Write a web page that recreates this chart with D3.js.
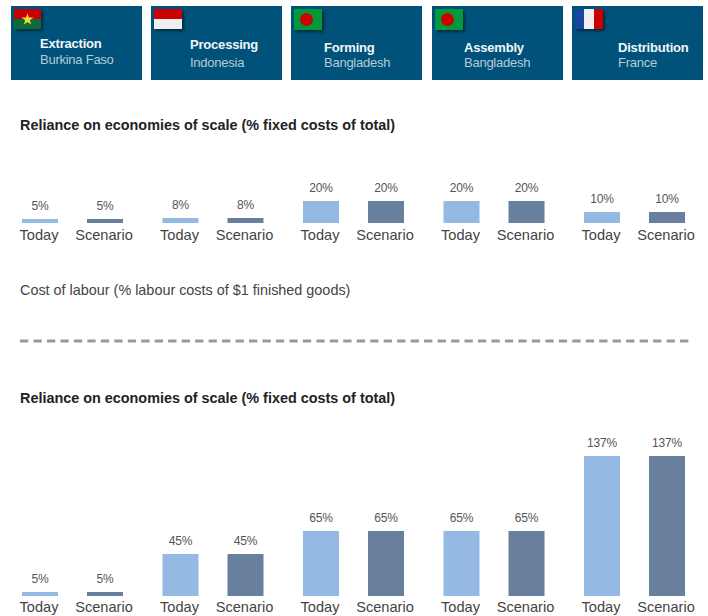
<!DOCTYPE html>
<html>
<head>
<meta charset="utf-8">
<script src="https://cdn.jsdelivr.net/npm/d3@7"></script>
<style>
  body { margin: 0; background: #fff; }
  svg { display: block; font-family: "Liberation Sans", sans-serif; }
</style>
</head>
<body>
<div class="chart"></div>
<script>
const steps = ['Extraction', 'Processing', 'Forming', 'Assembly', 'Distribution'];
const countries = ['Burkina Faso', 'Indonesia', 'Bangladesh', 'Bangladesh', 'France'];
const series = ['Today', 'Scenario'];
const fixedToday = [5, 8, 20, 20, 10];
const fixedScenario = [5, 8, 20, 20, 10];
const labourToday = [5, 45, 65, 65, 137];
const labourScenario = [5, 45, 65, 65, 137];

const tileBlue = '#00527a';
const seriesColor = d3.scaleOrdinal().domain(series).range(['#94b9e3', '#697f9e']);

const svg = d3.select('.chart')
  .append('svg')
  .attr('width', 708)
  .attr('height', 616);

const defs = svg.append('defs');
defs.append('filter')
  .attr('id', 'flagShadow')
  .attr('x', '-20%').attr('y', '-20%')
  .attr('width', '150%').attr('height', '160%')
  .append('feDropShadow')
  .attr('dx', 2).attr('dy', 2)
  .attr('stdDeviation', 1.5)
  .attr('flood-color', '#000')
  .attr('flood-opacity', 0.5);

// header tiles
const tileX = d3.scaleBand().domain(d3.range(5)).range([11, 703]).paddingInner(0.065);
const tileTextX = [29, 39, 33, 32, 46];
const titleY = [42, 43, 46, 46, 46];
const countryY = [58, 61, 61, 61, 61];

const tiles = svg.selectAll('g.tile')
  .data(steps)
  .enter()
  .append('g')
  .attr('class', 'tile')
  .attr('transform', (d, i) => `translate(${Math.round(tileX(i))},6)`);

tiles.append('rect')
  .attr('width', Math.round(tileX.bandwidth()))
  .attr('height', 74)
  .attr('fill', tileBlue);

tiles.append('text')
  .attr('x', (d, i) => tileTextX[i])
  .attr('y', (d, i) => titleY[i])
  .attr('fill', '#f2f6f8')
  .attr('font-size', 13)
  .attr('font-weight', 'bold')
  .attr('letter-spacing', -0.2)
  .text(d => d);

tiles.append('text')
  .attr('x', (d, i) => tileTextX[i])
  .attr('y', (d, i) => countryY[i])
  .attr('fill', '#b4ccd8')
  .attr('font-size', 13)
  .attr('letter-spacing', -0.25)
  .text((d, i) => countries[i]);

const flag = (i, w, h) => tiles.filter((d, k) => k === i)
  .append('g')
  .attr('transform', `translate(3,3)`)
  .attr('filter', 'url(#flagShadow)')
  .call(g => g.append('rect').attr('width', w).attr('height', h).attr('fill', '#fff'));

const burkina = flag(0, 27, 20);
burkina.append('rect').attr('width', 27).attr('height', 10).attr('fill', '#c90000');
burkina.append('rect').attr('y', 10).attr('width', 27).attr('height', 10).attr('fill', '#0b6b3a');
burkina.append('path')
  .attr('transform', 'translate(13.5,10.5)')
  .attr('d', d3.symbol(d3.symbolStar, 45))
  .attr('fill', '#f2d83a');

const indonesia = flag(1, 28, 20);
indonesia.append('rect').attr('width', 28).attr('height', 10).attr('fill', '#cc0000');
indonesia.append('rect').attr('y', 10).attr('width', 28).attr('height', 10).attr('fill', '#efefef');

[2, 3].forEach(i => {
  const bangladesh = flag(i, 28, 21);
  bangladesh.select('rect').attr('fill', '#069a3e');
  bangladesh.append('circle').attr('cx', 12.5).attr('cy', 10.5).attr('r', 6.5).attr('fill', '#cc0000');
});

const france = flag(4, 28, 20);
france.append('rect').attr('width', 9).attr('height', 20).attr('fill', '#1546a0');
france.append('rect').attr('x', 9).attr('width', 10).attr('height', 20).attr('fill', '#efefef');
france.append('rect').attr('x', 19).attr('width', 9).attr('height', 20).attr('fill', '#cc0000');

// section titles
const heading = (y, text, weight) => svg.append('text')
  .attr('x', 20)
  .attr('y', y)
  .attr('fill', weight === 'bold' ? '#222' : '#444')
  .attr('font-size', 14.4)
  .attr('font-weight', weight)
  .text(text);

heading(130, 'Reliance on economies of scale (% fixed costs of total)', 'bold');
heading(295, 'Cost of labour (% labour costs of $1 finished goods)', 'normal');
heading(403, 'Reliance on economies of scale (% fixed costs of total)', 'bold');

svg.append('line')
  .attr('x1', 20).attr('x2', 689)
  .attr('y1', 341).attr('y2', 341)
  .attr('stroke', '#999')
  .attr('stroke-width', 3)
  .attr('stroke-dasharray', '8.3 5.17');

// bar groups
const groupX = d3.scaleBand().domain(d3.range(5)).range([22, 685]).paddingInner(0.281);
const barX = d3.scaleBand().domain(series).range([0, groupX.bandwidth()]).paddingInner(0.446);

const drawBars = (today, scenario, y, tickPadding) => {
  const rows = steps.map((step, i) => ({ step, i, values: [today[i], scenario[i]] }));

  const groups = svg.append('g')
    .selectAll('g')
    .data(rows)
    .enter()
    .append('g')
    .attr('transform', d => `translate(${groupX(d.i)},0)`);

  const bars = groups.selectAll('g.bar')
    .data(d => d.values.map((value, k) => ({ value, name: series[k] })))
    .enter()
    .append('g')
    .attr('class', 'bar');

  bars.append('rect')
    .attr('x', d => barX(d.name))
    .attr('y', d => y(d.value))
    .attr('width', barX.bandwidth())
    .attr('height', d => y(0) - y(d.value))
    .attr('fill', d => seriesColor(d.name));

  bars.append('text')
    .attr('x', d => barX(d.name) + barX.bandwidth() / 2)
    .attr('y', d => y(d.value) - 9)
    .attr('text-anchor', 'middle')
    .attr('fill', '#555')
    .attr('font-size', 12)
    .attr('letter-spacing', -0.2)
    .text(d => `${d.value}%`);

  groups.append('g')
    .attr('transform', `translate(-1,${y(0)})`)
    .call(d3.axisBottom(barX).tickSize(0).tickPadding(tickPadding))
    .call(g => g.select('.domain').remove())
    .call(g => g.selectAll('text')
      .attr('fill', '#444')
      .attr('font-family', '"Liberation Sans", sans-serif')
      .attr('font-size', 14.6));
};

// bar heights in the picture are not strictly proportional to their labels
drawBars(fixedToday, fixedScenario,
  d3.scaleLinear().domain([0, 5, 8, 10, 20]).range([223, 219, 218, 212, 201]), 7);
drawBars(labourToday, labourScenario,
  d3.scaleLinear().domain([0, 5, 45, 65, 137]).range([596, 592, 554, 531, 456]), 6);
</script>
</body>
</html>
